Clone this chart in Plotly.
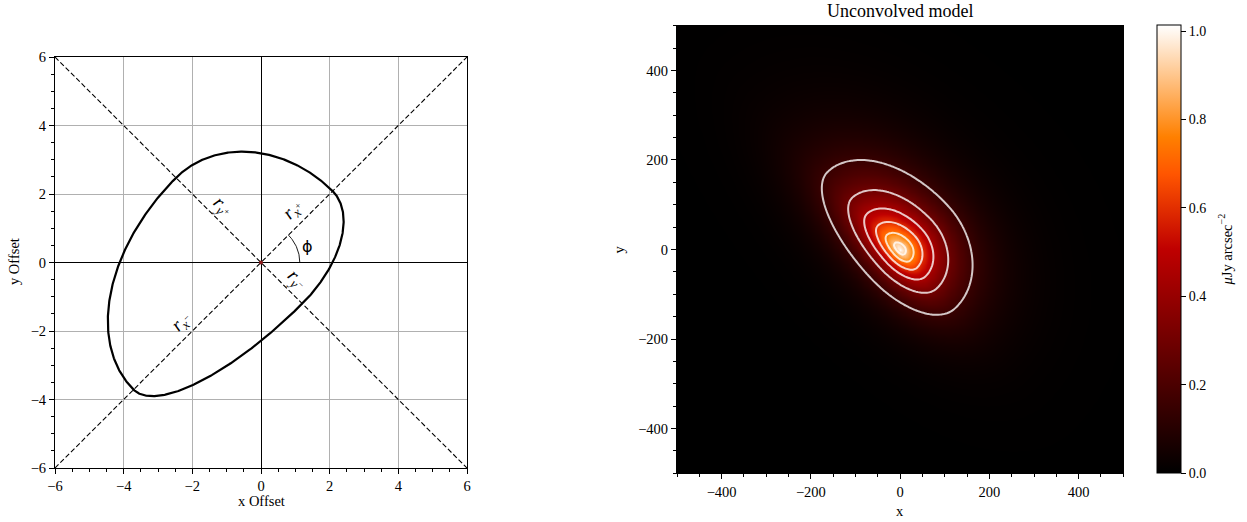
import numpy as np
import plotly.graph_objects as go

# ---------------- Left panel: asymmetric-ellipse geometry ----------------
AXIS_RANGE = [-6, 6]
PHI_DEG = 45.0          # angle of the r_x+ axis
RX_PLUS = 2.95
RX_MINUS = 5.25
RY_PLUS = 3.5
RY_MINUS = 1.7
ARC_RADIUS = 1.13       # radius of the phi arc
DIAG_X = [-6, 6]
DIAG_UP_Y = [-6, 6]
DIAG_DOWN_Y = [6, -6]
CENTER_XY = [0, 0]

LABEL_TEXT = [
    "<i>r</i><sub><i>y</i><sup>+</sup></sub>",
    "<i>r</i><sub><i>x</i><sup>+</sup></sub>",
    "<i>r</i><sub><i>y</i><sup>−</sup></sub>",
    "<i>r</i><sub><i>x</i><sup>−</sup></sub>",
]
LABEL_X = [-1.12, 0.94, 1.04, -2.31]
LABEL_Y = [1.62, 1.52, -0.52, -1.73]
LABEL_ANGLE = [45, -45, 45, -45]
PHI_LABEL_X = 1.35
PHI_LABEL_Y = 0.48

# ---------------- Right panel: model image parameters ----------------
IMG_RANGE = [-500, 500]
IMG_STEP = 5
PEAK = 1.013
MODEL_ANGLE_DEG = 133.0
SCALE_A_PLUS = 132.0
SCALE_A_MINUS = 100.0
SCALE_B_PLUS = 51.0
SCALE_B_MINUS = 80.5
PROFILE_INDEX = 1.1
CONTOUR_START = 0.15
CONTOUR_END = 0.9
CONTOUR_STEP = 0.15
CBAR_TICKS = [0.0, 0.2, 0.4, 0.6, 0.8, 1.0]

FONT = "Liberation Serif"

# ---------------- Build left curve ----------------
t = np.linspace(0, 2 * np.pi, 721)
ct, st = np.cos(t), np.sin(t)
xp = np.where(ct >= 0, RX_PLUS, RX_MINUS) * ct
yp = np.where(st >= 0, RY_PLUS, RY_MINUS) * st
phi = np.deg2rad(PHI_DEG)
curve_x = xp * np.cos(phi) - yp * np.sin(phi)
curve_y = xp * np.sin(phi) + yp * np.cos(phi)

arc_t = np.linspace(0, phi, 40)
arc_x = ARC_RADIUS * np.cos(arc_t)
arc_y = ARC_RADIUS * np.sin(arc_t)

# ---------------- Build right model image ----------------
gx = np.arange(IMG_RANGE[0], IMG_RANGE[1] + IMG_STEP, IMG_STEP)
gy = np.arange(IMG_RANGE[0], IMG_RANGE[1] + IMG_STEP, IMG_STEP)
X, Y = np.meshgrid(gx, gy)
th = np.deg2rad(MODEL_ANGLE_DEG)
Xr = X * np.cos(th) + Y * np.sin(th)
Yr = -X * np.sin(th) + Y * np.cos(th)
hx = np.where(Xr >= 0, SCALE_A_PLUS, SCALE_A_MINUS)
hy = np.where(Yr >= 0, SCALE_B_PLUS, SCALE_B_MINUS)
rho = np.sqrt((Xr / hx) ** 2 + (Yr / hy) ** 2)
Z = PEAK * np.exp(-rho ** PROFILE_INDEX)

# gist_heat colormap
gist_heat = [
    [0.0, "rgb(0,0,0)"],
    [0.5, "rgb(191,0,0)"],
    [2 / 3, "rgb(255,85,0)"],
    [0.75, "rgb(255,128,0)"],
    [1.0, "rgb(255,255,255)"],
]

fig = go.Figure()

# Left panel traces
fig.add_trace(go.Scatter(x=DIAG_X, y=DIAG_UP_Y, mode="lines",
                         line=dict(color="black", width=1.1, dash="5px,2.5px"),
                         xaxis="x", yaxis="y", hoverinfo="skip"))
fig.add_trace(go.Scatter(x=DIAG_X, y=DIAG_DOWN_Y, mode="lines",
                         line=dict(color="black", width=1.1, dash="5px,2.5px"),
                         xaxis="x", yaxis="y", hoverinfo="skip"))
fig.add_trace(go.Scatter(x=curve_x, y=curve_y, mode="lines",
                         line=dict(color="black", width=2.2),
                         xaxis="x", yaxis="y", hoverinfo="skip"))
fig.add_trace(go.Scatter(x=arc_x, y=arc_y, mode="lines",
                         line=dict(color="black", width=0.9),
                         xaxis="x", yaxis="y", hoverinfo="skip"))
fig.add_trace(go.Scatter(x=[CENTER_XY[0]], y=[CENTER_XY[1]], mode="markers",
                         marker=dict(color="#8b1a1a", size=4),
                         xaxis="x", yaxis="y", hoverinfo="skip"))

# Right panel traces
fig.add_trace(go.Heatmap(x=gx, y=gy, z=Z, colorscale=gist_heat, zmin=0, zmax=PEAK,
                         zsmooth="best", xaxis="x2", yaxis="y2",
                         colorbar=dict(x=1157 / 1247, xanchor="left", xpad=0,
                                       y=1 - 473.3 / 522, yanchor="bottom", ypad=0,
                                       lenmode="pixels", len=447.6, thickness=24,
                                       outlinewidth=1, outlinecolor="black",
                                       tickvals=CBAR_TICKS, tickformat=".1f",
                                       ticks="outside", ticklen=5, tickcolor="black",
                                       tickfont=dict(family=FONT, size=14, color="black"))))
fig.add_trace(go.Contour(x=gx, y=gy, z=Z, xaxis="x2", yaxis="y2", showscale=False,
                         contours=dict(start=CONTOUR_START, end=CONTOUR_END,
                                       size=CONTOUR_STEP, coloring="none"),
                         line=dict(color="rgba(255,255,255,0.78)", width=2),
                         hoverinfo="skip"))

axis_common = dict(ticks="outside", ticklen=5, tickwidth=1, tickcolor="black",
                   showline=True, linecolor="black", linewidth=1, mirror=True,
                   automargin=False,
                   tickfont=dict(family=FONT, size=14.5, color="black"))

fig.update_layout(
    width=1247, height=522,
    margin=dict(l=0, r=0, t=0, b=0, autoexpand=False),
    paper_bgcolor="white", plot_bgcolor="white",
    showlegend=False,
    font=dict(family=FONT, size=14, color="black"),
    xaxis=dict(domain=[55 / 1247, 467 / 1247], range=AXIS_RANGE, anchor="y",
               tick0=0, dtick=2, showgrid=True, gridcolor="#b0b0b0", gridwidth=0.8,
               zeroline=True, zerolinecolor="black", zerolinewidth=1.2,
               minor=dict(ticks="outside", ticklen=3, tick0=0, dtick=0.5,
                          tickcolor="black", showgrid=False),
               **axis_common),
    yaxis=dict(domain=[1 - 468 / 522, 1 - 57 / 522], range=AXIS_RANGE, anchor="x",
               tick0=0, dtick=2, showgrid=True, gridcolor="#b0b0b0", gridwidth=0.8,
               zeroline=True, zerolinecolor="black", zerolinewidth=1.2,
               minor=dict(ticks="outside", ticklen=3, tick0=0, dtick=0.5,
                          tickcolor="black", showgrid=False),
               **axis_common),
    xaxis2=dict(domain=[677 / 1247, 1123.3 / 1247], range=IMG_RANGE, anchor="y2",
                tick0=0, dtick=200, showgrid=False, zeroline=False,
                minor=dict(ticks="outside", ticklen=3, tick0=0, dtick=50,
                           tickcolor="black", showgrid=False),
                **axis_common),
    yaxis2=dict(domain=[1 - 473.3 / 522, 1 - 25.7 / 522], range=IMG_RANGE, anchor="x2",
                tick0=0, dtick=200, showgrid=False, zeroline=False,
                minor=dict(ticks="outside", ticklen=3, tick0=0, dtick=50,
                           tickcolor="black", showgrid=False),
                **axis_common),
)

C = dict(xanchor="center", yanchor="middle", showarrow=False)
annotations = []
for txt, lx, ly, ang in zip(LABEL_TEXT, LABEL_X, LABEL_Y, LABEL_ANGLE):
    annotations.append(dict(text=txt, x=lx, y=ly, xref="x", yref="y", textangle=ang,
                            font=dict(family=FONT, size=19, color="black"), **C))
annotations.append(dict(text="ϕ", x=PHI_LABEL_X, y=PHI_LABEL_Y, xref="x", yref="y",
                        font=dict(family="DejaVu Sans", size=16, color="black"), **C))
# axis titles
annotations += [
    dict(text="x Offset", x=261 / 1247, y=1 - 501 / 522, xref="paper", yref="paper",
         font=dict(family=FONT, size=14.5), **C),
    dict(text="y Offset", x=14 / 1247, y=1 - 262 / 522, xref="paper", yref="paper",
         textangle=-90, font=dict(family=FONT, size=14.5), **C),
    dict(text="Unconvolved model", x=900 / 1247, y=1 - 11 / 522, xref="paper", yref="paper",
         font=dict(family=FONT, size=18), **C),
    dict(text="x", x=900 / 1247, y=1 - 511 / 522, xref="paper", yref="paper",
         font=dict(family=FONT, size=14.5), **C),
    dict(text="y", x=619 / 1247, y=1 - 249.5 / 522, xref="paper", yref="paper",
         textangle=-90, font=dict(family=FONT, size=14.5), **C),
    dict(text="<i>μ</i>Jy arcsec<sup>−2</sup>", x=1226 / 1247, y=1 - 249.5 / 522,
         xref="paper", yref="paper", textangle=-90,
         font=dict(family=FONT, size=14.5), **C),
]
fig.update_layout(annotations=annotations)

fig.write_html("out.html", config={"displayModeBar": False},
               post_script="document.body.style.margin='0px';")
